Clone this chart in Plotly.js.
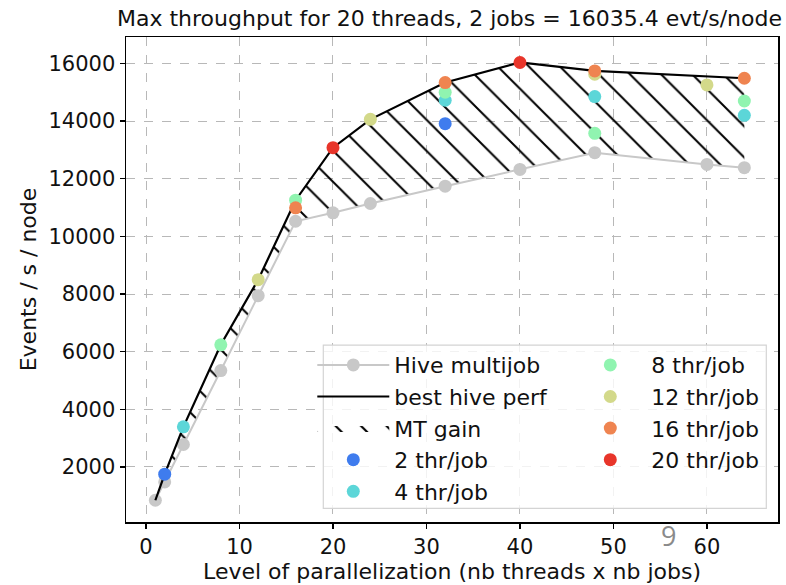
<!DOCTYPE html>
<html>
<head>
<meta charset="utf-8">
<script src="https://cdn.plot.ly/plotly-3.0.1.min.js"></script>
<style>html,body{margin:0;padding:0;background:#fff;}#chart{width:786px;height:585px;}</style>
</head>
<body>
<div id="chart"></div>
<script>
// Hive multijob (grey) series
const multiX = [1, 2, 4, 8, 12, 16, 20, 24, 32, 40, 48, 60, 64];
const multiY = [842, 1478, 2777, 5343, 7941, 10525, 10818, 11141, 11743, 12324, 12905, 12498, 12383];
// best hive perf (black) series
const bestX = [1, 2, 4, 8, 12, 16, 20, 24, 32, 40, 48, 64];
const bestY = [842, 1746, 3389, 6237, 8497, 11256, 13078, 14063, 15339, 16035.4, 15743, 15489];
// per-thread-count points
const thr2X = [2, 32];            const thr2Y = [1746, 13913];
const thr4X = [4, 32, 48, 64];    const thr4Y = [3389, 14724, 14852, 14202];
const thr8X = [8, 16, 32, 48, 64]; const thr8Y = [6237, 11256, 15002, 13576, 14699];
const thr12X = [12, 24, 48, 60];  const thr12Y = [8497, 14063, 15628, 15256];
const thr16X = [16, 32, 48, 64];  const thr16Y = [10992, 15339, 15743, 15489];
const thr20X = [20, 40];          const thr20Y = [13078, 16035.4];
const xTicks = [0, 10, 20, 30, 40, 50, 60];
const yTicks = [2000, 4000, 6000, 8000, 10000, 12000, 14000, 16000];
const titleText = 'Max throughput for 20 threads, 2 jobs = 16035.4 evt/s/node';

const FONT = 'DejaVu Sans, sans-serif';
const mk = 13;
function pts(x, y, name, color, rank, leg) {
  return {x: x, y: y, name: name, type: 'scatter', mode: 'markers',
    marker: {size: mk, color: color}, legendrank: rank, legendgroup: name, legend: leg};
}
const traces = [
  {x: multiX, y: multiY, name: 'Hive multijob', type: 'scatter', mode: 'lines+markers',
   line: {color: '#c8c8c8', width: 2}, marker: {size: mk, color: '#c8c8c8'},
   legendrank: 1, legendgroup: 'a', legend: 'legend'},
  {x: bestX, y: bestY, name: 'MT gain area', type: 'scatter', mode: 'lines',
   line: {width: 0, color: 'rgba(0,0,0,0)'}, fill: 'tonexty', fillcolor: 'rgba(0,0,0,0)',
   fillpattern: {shape: '\\', size: 22, solidity: 0.09, fgcolor: '#000000', bgcolor: 'rgba(255,255,255,0)'},
   showlegend: false, hoverinfo: 'skip'},
  {x: bestX, y: bestY, name: 'best hive perf', type: 'scatter', mode: 'lines',
   line: {color: '#000000', width: 2.2}, legendrank: 2, legendgroup: 'b', legend: 'legend'},
  {x: [null], y: [null], name: 'MT gain', type: 'scatter', mode: 'lines', fill: 'toself',
   line: {width: 0, color: 'rgba(0,0,0,0)'}, fillcolor: 'rgba(0,0,0,0)',
   fillpattern: {shape: '\\', size: 18, solidity: 0.12, fgcolor: '#000000', bgcolor: 'rgba(255,255,255,0)'},
   legendrank: 3, legendgroup: 'c', legend: 'legend'},
  pts(thr2X, thr2Y, '2 thr/job', '#3f7cee', 4, 'legend'),
  pts(thr4X, thr4Y, '4 thr/job', '#5cd6d8', 5, 'legend'),
  pts(thr8X, thr8Y, '8 thr/job', '#90f4b0', 6, 'legend2'),
  pts(thr12X, thr12Y, '12 thr/job', '#d3d98a', 7, 'legend2'),
  pts(thr16X, thr16Y, '16 thr/job', '#ef8450', 8, 'legend2'),
  pts(thr20X, thr20Y, '20 thr/job', '#e8352a', 9, 'legend2')
];

const axisCommon = {
  showline: true, mirror: true, linecolor: '#000', linewidth: 1.5,
  ticks: 'outside', ticklen: 5, tickwidth: 1.3, tickcolor: '#000',
  showgrid: true, gridcolor: '#b8b8b8', griddash: 'dash', gridwidth: 1,
  zeroline: false, automargin: false, tickfont: {family: FONT, size: 21, color: '#111'}
};

// plot area in pixels: left 125.7, right 777.7, top 37.3, bottom 521.7
const PL = 125.7, PR = 777.7, PT = 37.3, PB = 521.7;
const px = v => (v - PL) / (PR - PL);
const py = v => (PB - v) / (PB - PT);

const legendCommon = {
  orientation: 'v', xanchor: 'left', yanchor: 'top', traceorder: 'grouped',
  tracegroupgap: 0, itemwidth: 72, bgcolor: 'rgba(0,0,0,0)', borderwidth: 0,
  font: {family: FONT, size: 22, color: '#111'}
};

const layout = {
  width: 786, height: 585,
  margin: {l: PL, r: 786 - PR, t: PT, b: 585 - PB, autoexpand: false},
  paper_bgcolor: '#fff', plot_bgcolor: '#fff',
  font: {family: FONT, color: '#111'},
  title: {text: titleText, font: {family: FONT, size: 22, color: '#111'},
          x: 782 / 786, xref: 'container', xanchor: 'right', y: 1 - 18 / 585, yref: 'container', yanchor: 'middle'},
  xaxis: Object.assign({}, axisCommon, {
    range: [-2.14, 67.6], tickvals: xTicks, ticktext: xTicks.map(String),
    title: {text: 'Level of parallelization (nb threads x nb jobs)', font: {family: FONT, size: 22, color: '#111'}, standoff: 4}
  }),
  yaxis: Object.assign({}, axisCommon, {
    range: [87, 16920], tickvals: yTicks, ticktext: yTicks.map(String),
    title: {text: 'Events / s / node', font: {family: FONT, size: 22, color: '#111'}, standoff: 6}
  }),
  showlegend: true,
  legend: Object.assign({}, legendCommon, {x: px(312), y: py(344)}),
  legend2: Object.assign({}, legendCommon, {x: px(569), y: py(344)}),
  shapes: [
    {type: 'rect', xref: 'paper', yref: 'paper', x0: px(323), x1: px(766), y0: py(508), y1: py(345),
     fillcolor: 'rgba(255,255,255,0.82)', line: {color: '#d4d4d4', width: 1.2}, layer: 'above'}
  ],
  annotations: [
    {text: '9', xref: 'paper', yref: 'paper', x: px(668), y: py(535), xanchor: 'center', yanchor: 'middle',
     showarrow: false, font: {family: 'Open Sans, sans-serif', size: 27, color: '#8a8a8a'}}
  ]
};

Plotly.newPlot('chart', traces, layout, {displayModeBar: false, staticPlot: true});
</script>
</body>
</html>
